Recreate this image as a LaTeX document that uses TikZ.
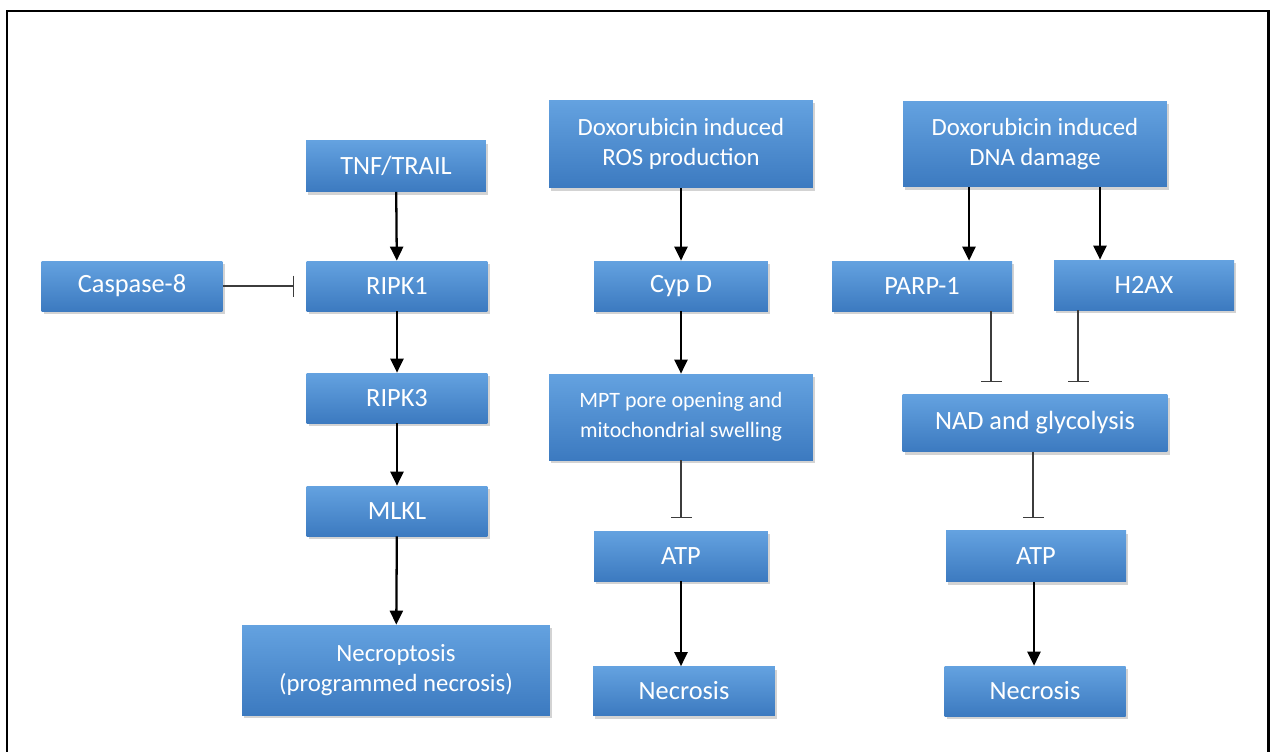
\documentclass[tikz,border=0pt]{standalone}
\usepackage{fontspec}
\setmainfont{Carlito}
\usepackage{tikz}
\usetikzlibrary{arrows.meta,positioning,calc,shadows}
\definecolor{celltop}{RGB}{100,162,224}
\definecolor{cellbottom}{RGB}{60,122,192}
\definecolor{inhibgray}{RGB}{60,60,60}
\tikzset{
  cell/.style={rectangle, top color=celltop, bottom color=cellbottom, draw=none,
    text=white, align=center, inner sep=2pt,
    font=\fontsize{15}{18.5}\selectfont,
    drop shadow={opacity=0.35, shadow xshift=1.2pt, shadow yshift=-1.8pt}},
  twoline/.style={font=\fontsize{14.1}{16.8}\selectfont},
  flow/.style={-{Triangle[width=0.26cm,length=0.28cm]}, line width=1.3pt, draw=black},
  inhibit/.style={-{Bar[width=0.42cm]}, line width=0.7pt, draw=inhibgray, shorten >=7pt}
}
\begin{document}
\begin{tikzpicture}[x=0.02cm, y=-0.02cm]
  \useasboundingbox (0,0) rectangle (1273,751);
  \draw[line width=1.7pt] (7,753) -- (7,11) -- (1268,11) -- (1268,753);

  % necroptosis pathway
  \node[cell, minimum width=3.6cm, minimum height=1.02cm] (tnf) at (396,166) {TNF/TRAIL};
  \node[cell, minimum width=3.62cm, minimum height=1cm] (casp) at (132,286) {Caspase-8};
  \node[cell, minimum width=3.62cm, minimum height=1cm] (ripk1) at (397,286) {RIPK1};
  \node[cell, minimum width=3.62cm, minimum height=1cm] (ripk3) at (397,398) {RIPK3};
  \node[cell, minimum width=3.62cm, minimum height=1cm] (mlkl) at (397,511) {MLKL};
  \node[cell, twoline, minimum width=6.16cm, minimum height=1.8cm] (necropt) at (396,670)
    {Necroptosis\\(programmed necrosis)};

  % ROS pathway
  \node[cell, twoline, minimum width=5.28cm, minimum height=1.76cm] (ros) at (681,144)
    {Doxorubicin induced\\ROS production};
  \node[cell, minimum width=3.48cm, minimum height=1cm] (cypd) at (681,286) {Cyp D};
  \node[cell, minimum width=5.28cm, minimum height=1.72cm,
    font=\fontsize{12.5}{17.2}\selectfont] (mpt) at (681,417)
    {MPT pore opening and\\mitochondrial swelling};
  \node[cell, minimum width=3.48cm, minimum height=1cm] (atpros) at (681,556) {ATP};
  \node[cell, minimum width=3.64cm, minimum height=0.98cm] (necros) at (684,691) {Necrosis};

  % DNA damage pathway
  \node[cell, twoline, minimum width=5.28cm, minimum height=1.72cm] (dna) at (1035,144)
    {Doxorubicin induced\\DNA damage};
  \node[cell, minimum width=3.6cm, minimum height=1cm] (parp) at (922,286) {PARP-1};
  \node[cell, minimum width=3.6cm, minimum height=1cm] (h2ax) at (1144,285) {H2AX};
  \node[cell, minimum width=5.3cm, minimum height=1.14cm] (nad) at (1035,423) {NAD and glycolysis};
  \node[cell, minimum width=3.6cm, minimum height=1.02cm] (atpdna) at (1036,556) {ATP};
  \node[cell, minimum width=3.62cm, minimum height=1cm] (necdna) at (1035,691) {Necrosis};

  \draw[flow] (tnf) -- (ripk1);
  \draw[inhibit] (casp) -- (ripk1);
  \draw[flow] (ripk1) -- (ripk3);
  \draw[flow] (ripk3) -- (mlkl);
  \draw[flow] (mlkl) -- (necropt);

  \draw[flow] (ros) -- (cypd);
  \draw[flow] (cypd) -- (mpt);
  \draw[inhibit] (mpt) -- (atpros);
  \draw[flow] (atpros.south -| necros.north) ++(-3,0) coordinate (atpfoot) -- (atpfoot |- necros.north);

  \draw[flow] ([xshift=-1.32cm]dna.south) -- ([xshift=-1.32cm]dna.south |- parp.north);
  \draw[flow] ([xshift=1.3cm]dna.south) -- ([xshift=1.3cm]dna.south |- h2ax.north);
  \draw[inhibit] ([xshift=1.38cm]parp.south) -- ([xshift=1.38cm]parp.south |- nad.north);
  \draw[inhibit] ([xshift=-1.32cm]h2ax.south) -- ([xshift=-1.32cm]h2ax.south |- nad.north);
  \draw[inhibit] ([xshift=-0.04cm]nad.south) -- ([xshift=-0.04cm]nad.south |- atpdna.north);
  \draw[flow] ([xshift=-0.04cm]atpdna.south) -- ([xshift=-0.04cm]atpdna.south |- necdna.north);
\end{tikzpicture}
\end{document}
